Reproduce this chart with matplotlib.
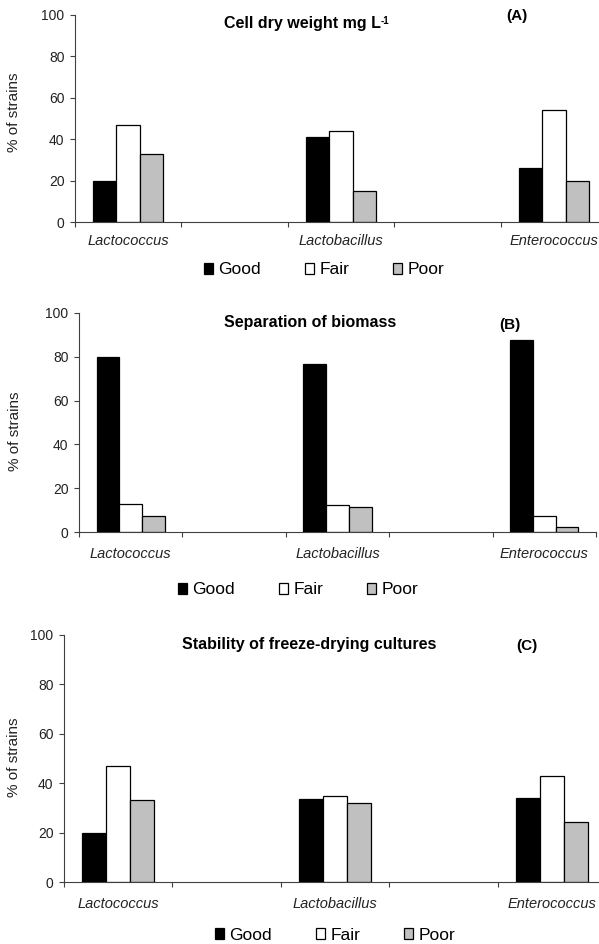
import numpy as np
import matplotlib.pyplot as plt

plt.rcParams['font.family'] = ['Liberation Sans', 'DejaVu Sans']

W, H = 599, 944

# data (% of strains)
slots = ['Lactococcus', '', 'Lactobacillus', '', 'Enterococcus']
genus_slot = [0, 2, 4]
ratings = ['Good', 'Fair', 'Poor']
colors = ['black', 'white', '#c0c0c0']

dry_good = [20, 41, 26]
dry_fair = [47, 44, 54.3]
dry_poor = [33, 15, 19.8]

sep_good = [80, 76.5, 87.5]
sep_fair = [13, 12.5, 7.5]
sep_poor = [7.2, 11.5, 2.5]

stab_good = [20, 33.5, 34]
stab_fair = [47, 35, 43]
stab_poor = [33.3, 32, 24.3]


def px(x, y):
    return x / W, 1 - y / H


fig = plt.figure(figsize=(W / 100, H / 100), dpi=100)


def panel(rect, title, title_xy, tag, tag_xy, series, ylab_xy, leg_xy, lab_pad, sup=None):
    l, t, r, b = rect
    ax = fig.add_axes([l / W, 1 - b / H, (r - l) / W, (b - t) / H])
    x = np.array(genus_slot)
    w = 0.22
    for k, vals in enumerate(series):
        ax.bar(x + (k - 1) * w, vals, w, color=colors[k], edgecolor='black',
               linewidth=0.9, label=ratings[k])
    ax.set_xlim(-0.5, 4.5)
    ax.set_ylim(0, 100)
    ax.set_yticks(range(0, 101, 20))
    ax.set_xticks(np.arange(-0.5, 4.6, 1))
    ax.set_xticklabels([])
    ax.set_xticks(range(5), minor=True)
    ax.set_xticklabels(slots, minor=True, style='italic', fontsize=10.5, color='#222222')
    ax.tick_params(axis='x', which='minor', length=0, pad=lab_pad)
    ax.tick_params(axis='x', which='major', length=3.6, width=0.8, color='#404040')
    ax.tick_params(axis='y', length=3.6, width=0.8, color='#404040', pad=4,
                   labelsize=10, labelcolor='#222222')
    for s in ['top', 'right']:
        ax.spines[s].set_visible(False)
    for s in ['left', 'bottom']:
        ax.spines[s].set_color('#404040')
        ax.spines[s].set_linewidth(0.8)
    ax.set_ylabel('% of strains', fontsize=11, color='#222222')
    ax.yaxis.set_label_coords(*px(*ylab_xy), transform=fig.transFigure)

    tt = fig.text(*px(*title_xy), title, ha='center', va='baseline',
                  fontsize=11.5, fontweight='bold')
    if sup:
        fig.canvas.draw()
        ax.annotate(sup, xy=(1, 1), xycoords=tt, xytext=(0.3, 0),
                    textcoords='offset points', ha='left', va='top',
                    fontsize=7, fontweight='bold')
    fig.text(*px(*tag_xy), tag, ha='center', va='center',
             fontsize=11, fontweight='bold')
    ax.legend(loc='center', bbox_to_anchor=px(*leg_xy), bbox_transform=fig.transFigure,
              ncol=3, frameon=False, fontsize=12.5, handlelength=0.55,
              handleheight=0.55, handletextpad=0.3, columnspacing=2.5)
    return ax


panel((75, 15, 607, 222), 'Cell dry weight mg L', (302, 28), '(A)', (517, 16),
      [dry_good, dry_fair, dry_poor], (21, 112), (324, 270), 8.5, sup='-1')
panel((79, 313, 596, 532), 'Separation of biomass', (310, 327), '(B)', (510, 325),
      [sep_good, sep_fair, sep_poor], (22, 431), (298, 590), 11)
panel((64, 635, 606, 882), 'Stability of freeze-drying cultures', (309, 649), '(C)', (527, 646),
      [stab_good, stab_fair, stab_poor], (21, 757), (335, 935), 10.5)

fig.savefig('out.png', dpi=100)
